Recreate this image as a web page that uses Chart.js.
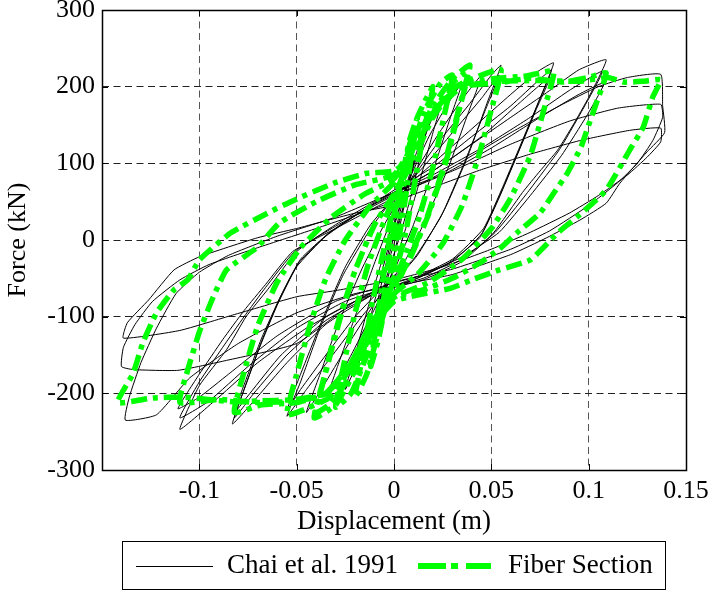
<!DOCTYPE html>
<html>
<head>
<meta charset="utf-8">
<script src="https://cdn.jsdelivr.net/npm/chart.js@4.4.1/dist/chart.umd.min.js"></script>
<style>
  html, body { margin: 0; padding: 0; background: #fff; }
  canvas { display: block; }
</style>
</head>
<body>
<canvas id="grafico" width="710" height="591"></canvas>
<script>
// Chai et al. 1991 (test) - displacement (m) and force (kN), one row per cycle
const chaiDisp = [
  0, 0.002, 0.005, 0.003, 0, -0.003, -0.005, -0.003, 0,
  0.004, 0.008, 0.011, 0.008, 0.004, 0, -0.005, -0.01, -0.008, -0.004, 0,
  0.005, 0.011, 0.018, 0.014, 0.009, 0.003, -0.004, -0.011, -0.018, -0.014, -0.008, -0.002,
  0.004, 0.012, 0.019, 0.025, 0.02, 0.013, 0.006, 0, -0.008, -0.017, -0.025, -0.02, -0.013, -0.006, 0,
  0.008, 0.018, 0.027, 0.035, 0.029, 0.02, 0.01, 0, -0.01, -0.022, -0.035, -0.029, -0.02, -0.01, 0,
  0.01, 0.022, 0.034, 0.045, 0.038, 0.028, 0.016, 0.005, -0.008, -0.022, -0.035, -0.045, -0.038, -0.028, -0.016, -0.005,
  0.008, 0.022, 0.038, 0.05, 0.055, 0.048, 0.038, 0.026, 0.012, 0, -0.015, -0.03, -0.045, -0.055, -0.048, -0.038, -0.026, -0.012, 0,
  0.015, 0.03, 0.045, 0.054, 0.047, 0.036, 0.024, 0.01, -0.005, -0.02, -0.035, -0.048, -0.055, -0.048, -0.037, -0.025, -0.012, 0,
  0.02, 0.04, 0.06, 0.074, 0.082, 0.075, 0.066, 0.056, 0.046, 0.03, 0.01, -0.01, -0.035, -0.055, -0.072, -0.083, -0.077, -0.069, -0.06, -0.05, -0.035, -0.015, 0,
  0.02, 0.04, 0.06, 0.075, 0.081, 0.074, 0.065, 0.055, 0.045, 0.03, 0.01, -0.01, -0.035, -0.055, -0.072, -0.082, -0.076, -0.068, -0.059, -0.049, -0.034, -0.015, 0,
  0.02, 0.045, 0.065, 0.08, 0.073, 0.064, 0.054, 0.044, 0.028, 0.01, -0.01, -0.035, -0.058, -0.074, -0.082, -0.076, -0.068, -0.058, -0.048, -0.033, -0.015, 0,
  0.02, 0.04, 0.06, 0.08, 0.095, 0.109, 0.1, 0.092, 0.084, 0.075, 0.066, 0.051, 0.035, 0.015, 0, -0.02, -0.045, -0.07, -0.09, -0.11, -0.1, -0.086, -0.076, -0.065, -0.05, -0.03, -0.01, 0,
  0.02, 0.045, 0.07, 0.09, 0.107, 0.098, 0.085, 0.068, 0.052, 0.035, 0.015, 0, -0.025, -0.05, -0.075, -0.095, -0.11, -0.1, -0.088, -0.077, -0.066, -0.051, -0.03, -0.01, 0,
  0.025, 0.05, 0.075, 0.095, 0.108, 0.099, 0.086, 0.07, 0.054, 0.035, 0.015, 0, -0.03, -0.06, -0.085, -0.1, -0.111, -0.1, -0.088, -0.077, -0.066, -0.052, -0.03, -0.01, 0,
  0.03, 0.06, 0.085, 0.105, 0.12, 0.137, 0.138, 0.139, 0.13, 0.116, 0.109, 0.0955, 0.0785, 0.06, 0.03, 0, -0.02, -0.05, -0.08, -0.105, -0.122, -0.138, -0.136, -0.13, -0.122, -0.112, -0.1, -0.085, -0.06, -0.03, 0,
  0.03, 0.06, 0.09, 0.115, 0.137, 0.138, 0.133, 0.125, 0.115, 0.1, 0.08, 0.06, 0.03, 0, -0.02, -0.05, -0.086, -0.111, -0.134, -0.14, -0.139, -0.133, -0.124, -0.11, -0.095, -0.07, -0.04, 0,
  0.044, 0.07, 0.096, 0.121, 0.137, 0.137, 0.13, 0.12, 0.105, 0.09, 0.07, 0.05, 0.025, 0, -0.03, -0.05, -0.083, -0.11, -0.139, -0.137, -0.126, -0.113, -0.1, -0.07, -0.05, -0.02, 0
];
const chaiForce = [
  0, 20, 45, 25, -5, -30, -50, -25, 5,
  45, 80, 110, 75, 30, -20, -65, -105, -75, -30, 20,
  60, 110, 155, 115, 60, 5, -50, -110, -160, -120, -60, 0,
  50, 110, 155, 185, 140, 75, 15, -35, -90, -150, -195, -150, -85, -25, 30,
  80, 135, 175, 205, 160, 90, 20, -40, -90, -150, -210, -165, -100, -30, 35,
  85, 135, 180, 215, 165, 95, 25, -30, -75, -130, -185, -225, -175, -105, -35, 20,
  75, 125, 175, 215, 228, 180, 110, 40, -20, -55, -95, -145, -195, -230, -185, -115, -45, 15, 55,
  95, 140, 185, 215, 170, 100, 30, -25, -60, -100, -150, -195, -222, -175, -105, -35, 20, 55,
  100, 145, 190, 220, 231, 185, 130, 70, 15, -25, -50, -70, -110, -160, -210, -240, -195, -140, -85, -35, 5, 40, 65,
  95, 135, 175, 210, 222, 178, 122, 62, 8, -28, -52, -70, -105, -150, -200, -232, -188, -132, -78, -30, 8, 40, 62,
  90, 135, 180, 212, 170, 115, 55, 3, -30, -52, -68, -100, -150, -200, -225, -182, -128, -72, -25, 10, 40, 60,
  90, 125, 160, 195, 222, 235, 186, 150, 117, 90, 62, 9, -28, -52, -62, -80, -115, -160, -205, -247, -190, -143, -100, -65, -15, 20, 50, 62,
  85, 120, 160, 195, 220, 175, 118, 60, 10, -25, -50, -60, -80, -115, -165, -210, -232, -185, -140, -100, -62, -15, 18, 45, 58,
  85, 120, 160, 190, 205, 162, 110, 58, 10, -22, -45, -56, -80, -125, -175, -205, -220, -175, -130, -92, -58, -15, 15, 42, 55,
  95, 140, 175, 200, 212, 216, 175, 140, 115, 74, 48, 26, 3, -19, -45, -60, -70, -95, -135, -180, -228, -235, -205, -160, -115, -70, -42, -20, 5, 30, 62,
  90, 125, 155, 172, 177, 160, 130, 100, 75, 45, 12, -12, -38, -55, -80, -135, -157, -170, -169, -165, -140, -110, -80, -52, -32, -10, 15, 50,
  91, 112, 130, 143, 146, 128, 108, 85, 58, 35, 10, -12, -35, -52, -66, -74, -98, -118, -128, -108, -78, -39, -22, 3, 15, 35, 45
];

// Fiber Section model - displacement (m) and force (kN)
const fiberDisp = [
  0, 0.003, 0.006, 0.004, 0.001, -0.002, -0.006, -0.004, -0.001,
  0.004, 0.008, 0.012, 0.009, 0.005, 0.001, -0.004, -0.008, -0.012, -0.009, -0.005, -0.001,
  0.005, 0.012, 0.02, 0.016, 0.011, 0.006, 0, -0.008, -0.014, -0.02, -0.016, -0.011, -0.005, 0,
  0.008, 0.016, 0.024, 0.03, 0.026, 0.02, 0.013, 0.005, -0.005, -0.014, -0.022, -0.03, -0.026, -0.02, -0.013, -0.005, 0,
  0.01, 0.02, 0.03, 0.039, 0.034, 0.027, 0.018, 0.008, 0, -0.01, -0.02, -0.03, -0.041, -0.036, -0.029, -0.02, -0.01, 0,
  0.01, 0.02, 0.03, 0.038, 0.033, 0.026, 0.017, 0.007, 0, -0.012, -0.022, -0.032, -0.04, -0.035, -0.028, -0.02, -0.01, 0,
  0.01, 0.02, 0.032, 0.045, 0.055, 0.05, 0.043, 0.035, 0.025, 0.012, 0, -0.012, -0.022, -0.033, -0.045, -0.055, -0.05, -0.043, -0.035, -0.025, -0.012, 0,
  0.01, 0.02, 0.032, 0.05, 0.068, 0.082, 0.077, 0.07, 0.06, 0.05, 0.035, 0.018, 0, -0.012, -0.022, -0.035, -0.05, -0.068, -0.082, -0.077, -0.07, -0.06, -0.048, -0.032, -0.015, 0,
  0.01, 0.02, 0.035, 0.054, 0.07, 0.087, 0.1, 0.109, 0.104, 0.1, 0.096, 0.089, 0.082, 0.075, 0.063, 0.054, 0.044, 0.03, 0.015, 0, -0.012, -0.022, -0.035, -0.05, -0.07, -0.09, -0.11, -0.106, -0.1, -0.093, -0.086, -0.07, -0.059, -0.04, -0.02, 0,
  0.01, 0.02, 0.035, 0.055, 0.075, 0.095, 0.11, 0.118, 0.128, 0.137, 0.133, 0.128, 0.121, 0.109, 0.094, 0.084, 0.07, 0.054, 0.04, 0.029, 0.008, 0, -0.012, -0.022, -0.035, -0.05, -0.07, -0.083, -0.108, -0.124, -0.142, -0.134, -0.129, -0.122, -0.113, -0.106, -0.1, -0.084, -0.065, -0.053, -0.031, -0.014, 0, 0.01
];
const fiberForce = [
  0, 60, 95, 50, 0, -45, -95, -50, 0,
  80, 130, 160, 110, 40, -20, -80, -130, -165, -110, -40, 20,
  95, 160, 200, 150, 80, 10, -50, -120, -175, -205, -150, -80, -10, 45,
  110, 170, 205, 215, 165, 95, 30, -25, -80, -150, -200, -218, -165, -95, -30, 25, 55,
  120, 175, 210, 228, 175, 105, 35, -25, -60, -110, -170, -215, -232, -180, -110, -40, 20, 60,
  110, 165, 205, 220, 168, 100, 30, -28, -65, -115, -175, -212, -225, -172, -105, -40, 20, 58,
  105, 160, 200, 215, 222, 170, 105, 45, -5, -45, -70, -110, -165, -205, -220, -228, -175, -110, -50, 0, 45, 75,
  115, 165, 200, 210, 214, 220, 170, 110, 55, 15, -25, -55, -75, -110, -160, -200, -212, -215, -225, -172, -112, -55, -10, 30, 60, 80,
  120, 165, 200, 205, 211, 206, 212, 218, 179, 150, 121, 87, 61, 35, 9, -12, -30, -50, -65, -75, -110, -160, -200, -210, -212, -208, -212, -170, -120, -75, -39, -9, 22, 50, 72, 85,
  125, 170, 200, 207, 208, 207, 212, 206, 207, 209, 187, 147, 117, 65, 30, 9, -26, -39, -52, -63, -74, -80, -115, -165, -200, -208, -210, -211, -205, -206, -212, -174, -134, -95, -65, -52, -26, 9, 35, 50, 74, 87, 90, 110
];

const xTicks = [-0.15, -0.1, -0.05, 0, 0.05, 0.1, 0.15];
const yTicks = [-300, -200, -100, 0, 100, 200, 300];
const seriesNames = ['Chai et al. 1991', 'Fiber Section'];

function toPoints(xs, ys) {
  const n = Math.min(xs.length, ys.length);
  if (xs.length !== ys.length) console.error('length mismatch', xs.length, ys.length);
  const pts = [];
  for (let i = 0; i < n; i++) pts.push({ x: xs[i], y: ys[i] });
  return pts;
}

const serif = "'Liberation Serif', 'Times New Roman', serif";
const verde = '#00ff00';

// box round the plot, inner tick marks and the boxed legend
const molduraPlugin = {
  id: 'moldura',
  afterDatasetsDraw(chart) {
    const { ctx, chartArea: a, scales } = chart;
    ctx.save();
    ctx.strokeStyle = '#000';
    ctx.lineWidth = 1;
    ctx.setLineDash([]);
    ctx.beginPath();
    xTicks.forEach(v => {
      const px = Math.round(scales.x.getPixelForValue(v)) + 0.5;
      ctx.moveTo(px, a.bottom); ctx.lineTo(px, a.bottom - 6);
      ctx.moveTo(px, a.top); ctx.lineTo(px, a.top + 6);
    });
    yTicks.forEach(v => {
      const py = Math.round(scales.y.getPixelForValue(v)) + 0.5;
      ctx.moveTo(a.left, py); ctx.lineTo(a.left + 6, py);
      ctx.moveTo(a.right, py); ctx.lineTo(a.right - 6, py);
    });
    ctx.stroke();
    ctx.lineWidth = 1.5;
    ctx.strokeRect(a.left + 0.5, a.top + 0.5, a.right - a.left, a.bottom - a.top);
    ctx.restore();
  },
  afterDraw(chart) {
    const ctx = chart.ctx;
    ctx.save();
    ctx.strokeStyle = '#000';
    ctx.lineWidth = 1;
    ctx.strokeRect(122.5, 541.5, 543, 48);
    const ly = 566;
    ctx.beginPath();
    ctx.moveTo(136, ly + 0.5); ctx.lineTo(213, ly + 0.5);
    ctx.stroke();
    ctx.strokeStyle = verde;
    ctx.lineWidth = 6;
    ctx.setLineDash([28, 5, 7, 8]);
    ctx.beginPath();
    ctx.moveTo(418, ly); ctx.lineTo(491, ly);
    ctx.stroke();
    ctx.setLineDash([]);
    ctx.fillStyle = '#000';
    ctx.font = '27px ' + serif;
    ctx.textBaseline = 'middle';
    ctx.textAlign = 'left';
    ctx.fillText(seriesNames[0], 227, ly);
    ctx.fillText(seriesNames[1], 508, ly);
    ctx.restore();
  }
};

const ctx = document.getElementById('grafico');

new Chart(ctx, {
  type: 'scatter',
  data: {
    datasets: [
      {
        label: seriesNames[0],
        data: toPoints(chaiDisp, chaiForce),
        showLine: true,
        borderColor: '#000',
        borderWidth: 1,
        pointRadius: 0,
        tension: 0.15,
        order: 2
      },
      {
        label: seriesNames[1],
        data: toPoints(fiberDisp, fiberForce),
        showLine: true,
        borderColor: verde,
        borderWidth: 5.5,
        borderDash: [16, 6, 5, 6],
        pointRadius: 0,
        tension: 0.15,
        order: 1
      }
    ]
  },
  options: {
    responsive: false,
    animation: false,
    devicePixelRatio: 1,
    layout: { padding: { left: 0, top: 10, right: 24, bottom: 0 } },
    plugins: {
      legend: { display: false },
      tooltip: { enabled: false }
    },
    scales: {
      x: {
        type: 'linear',
        min: -0.15,
        max: 0.15,
        afterBuildTicks: s => { s.ticks = xTicks.map(v => ({ value: v })); },
        afterFit: s => { s.height = 121; s.paddingLeft = 0; s.paddingRight = 0; },
        ticks: {
          padding: 6,
          color: '#000',
          font: { family: serif, size: 26 },
          maxRotation: 0,
          callback: v => (v <= -0.149 ? '' : String(Math.round(v * 100) / 100))
        },
        grid: { color: '#555', lineWidth: 1, drawTicks: false },
        border: { display: false, dash: [7, 4.5] },
        title: {
          display: true,
          text: 'Displacement (m)',
          color: '#000',
          font: { family: serif, size: 27 },
          padding: { top: 0, bottom: 53 }
        }
      },
      y: {
        type: 'linear',
        min: -300,
        max: 300,
        afterBuildTicks: s => { s.ticks = yTicks.map(v => ({ value: v })); },
        afterFit: s => { s.width = 102; s.paddingTop = 0; s.paddingBottom = 0; },
        ticks: {
          padding: 7,
          color: '#000',
          font: { family: serif, size: 26 }
        },
        grid: { color: '#222', lineWidth: 1, drawTicks: false },
        border: { display: false, dash: [7, 4.5] },
        title: {
          display: true,
          text: 'Force (kN)',
          color: '#000',
          font: { family: serif, size: 26 },
          padding: { top: 3, bottom: 0 }
        }
      }
    }
  },
  plugins: [molduraPlugin]
});
</script>
</body>
</html>
